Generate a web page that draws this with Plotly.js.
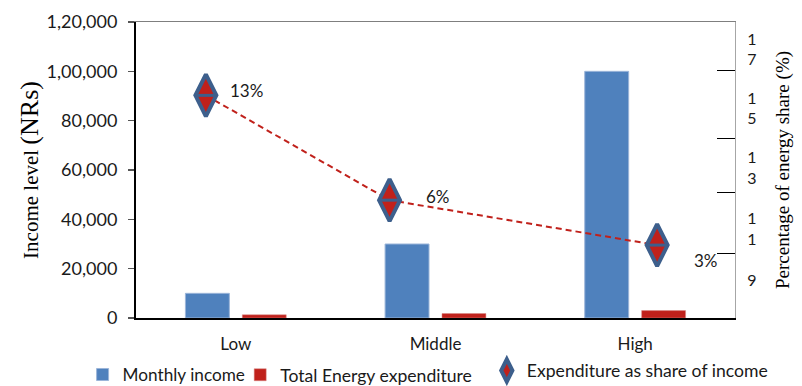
<!DOCTYPE html>
<html>
<head>
<meta charset="utf-8">
<script src="https://cdn.plot.ly/plotly-3.0.1.min.js"></script>
<style>
  html, body { margin: 0; padding: 0; background: #fff; }
  #chart { width: 802px; height: 386px; }
</style>
</head>
<body>
<div id="chart"></div>
<script>
// Income groups and their monthly figures (NRs)
const categories = ['Low', 'Middle', 'High'];
const monthlyIncome = [10000, 30000, 100000];
const energyExpenditure = [1300, 1800, 3000];

// Energy expenditure as a share of income (%), and where each point sits along the groups
const sharePercent = [13, 6, 3];
const sharePos = [-0.15, 0.77, 2.11];

// Left axis ticks (Indian digit grouping)
const incomeTicks = [0, 20000, 40000, 60000, 80000, 100000, 120000];
const incomeTickText = ['0', '20,000', '40,000', '60,000', '80,000', '1,00,000', '1,20,000'];

// Right axis: label text, where the labels sit and where the tick marks sit (in % units)
const shareAxisText = ['1<br>7', '1<br>5', '1<br>3', '1<br>1', '9'];
const shareLabelPos = [16.07, 12.13, 8.13, 4.07, 0.67];
const shareMarkPos = [14.67, 10.13, 6.53, 2.47];

const BLUE = '#4F81BD';
const RED = '#C0211B';
const DIAMOND = '#3D5F8C';
const sans = 'Lato, "Open Sans", sans-serif';
const serif = '"Liberation Serif", "DejaVu Serif", serif';

const traces = [
  {
    type: 'bar', name: 'Monthly income', x: categories, y: monthlyIncome,
    marker: { color: BLUE, line: { color: '#9BB5D9', width: 1 } },
    legend: 'legend', hoverinfo: 'x+y'
  },
  {
    type: 'bar', name: 'Total Energy expenditure', x: categories, y: energyExpenditure,
    marker: { color: RED, line: { color: '#D98A86', width: 0.5 } },
    legend: 'legend3', hoverinfo: 'x+y'
  },
  {
    type: 'scatter', mode: 'lines', x: sharePos, y: sharePercent,
    xaxis: 'x2', yaxis: 'y2', showlegend: false, hoverinfo: 'skip',
    line: { color: RED, width: 2, dash: '6px,4px' }
  },
  {
    type: 'scatter', mode: 'markers', name: 'Expenditure as share of income',
    x: sharePos, y: sharePercent, xaxis: 'x2', yaxis: 'y2', legend: 'legend2',
    marker: { symbol: 'diamond-tall', size: 30, color: RED, line: { color: DIAMOND, width: 4 } },
    text: sharePercent.map(v => v + '%'), hoverinfo: 'text'
  },
  {
    type: 'scatter', mode: 'markers', x: sharePos, y: sharePercent,
    xaxis: 'x2', yaxis: 'y2', showlegend: false, hoverinfo: 'skip',
    marker: { symbol: 'line-ew', size: 15, line: { color: DIAMOND, width: 3 } }
  }
];

// Value labels next to each share point
const labelShift = [[22, 5], [34, 4], [35, -15]];
const annotations = sharePercent.map((v, i) => ({
  x: sharePos[i], y: v, xref: 'x2', yref: 'y2',
  text: v + '%', showarrow: false, xanchor: 'left', yanchor: 'middle',
  xshift: labelShift[i][0], yshift: labelShift[i][1],
  font: { family: sans, size: 17, color: '#1a1a1a' }
}));

const legendFont = { family: sans, size: 17.6, color: '#1a1a1a' };

const layout = {
  width: 802, height: 386,
  margin: { l: 136, r: 67, t: 22, b: 68 },
  paper_bgcolor: '#fff', plot_bgcolor: '#fff',
  barmode: 'group', bargap: 0.43, bargroupgap: 0.228,
  font: { family: sans, size: 17, color: '#1a1a1a' },
  xaxis: {
    type: 'category', showline: true, linecolor: '#000', linewidth: 1.5,
    ticks: '', ticklabelstandoff: 10, showgrid: false, zeroline: false,
    tickfont: { family: sans, size: 17, color: '#1a1a1a' }
  },
  xaxis2: {
    overlaying: 'x', side: 'top', range: [-0.5, 2.5],
    showline: true, linecolor: '#7F7F7F', linewidth: 1,
    ticks: '', showticklabels: false, showgrid: false, zeroline: false
  },
  yaxis: {
    range: [0, 120000], tickmode: 'array', tickvals: incomeTicks, ticktext: incomeTickText,
    showline: true, linecolor: '#000', linewidth: 2,
    ticks: 'outside', ticklen: 6, tickcolor: '#555', tickwidth: 1.5,
    ticklabelstandoff: 7, showgrid: false, zeroline: false,
    tickfont: { family: sans, size: 18, color: '#1a1a1a' },
    title: {
      text: 'Income level <span style="font-size:26px">(NRs)</span>',
      font: { family: serif, size: 21, color: '#000' }, standoff: 2
    }
  },
  yaxis2: {
    overlaying: 'y', side: 'right', range: [-1.87, 17.9],
    showline: true, linecolor: '#A6A6A6', linewidth: 1,
    tickmode: 'array', tickvals: shareLabelPos, ticktext: shareAxisText,
    ticks: '', ticklabelstandoff: 8, showgrid: false, zeroline: false,
    tickfont: { family: sans, size: 16, color: '#1a1a1a' },
    minor: { tickmode: 'array', tickvals: shareMarkPos, ticks: 'inside', ticklen: 18, tickcolor: '#000', tickwidth: 1 },
    title: {
      text: 'Percentage of energy share (%)',
      font: { family: serif, size: 19, color: '#000' }, standoff: 20
    }
  },
  legend: {
    orientation: 'h', xref: 'container', yref: 'container',
    x: 0.103, xanchor: 'left', y: 0.029, yanchor: 'middle',
    font: { family: sans, size: 17.2, color: '#1a1a1a' }, bgcolor: 'rgba(0,0,0,0)'
  },
  legend3: {
    orientation: 'h', xref: 'container', yref: 'container',
    x: 0.2995, xanchor: 'left', y: 0.029, yanchor: 'middle',
    font: legendFont, bgcolor: 'rgba(0,0,0,0)'
  },
  legend2: {
    orientation: 'h', xref: 'container', yref: 'container',
    x: 0.607, xanchor: 'left', y: 0.04, yanchor: 'middle',
    font: legendFont, bgcolor: 'rgba(0,0,0,0)'
  },
  annotations: annotations,
  showlegend: true
};

Plotly.newPlot('chart', traces, layout, { displayModeBar: false, staticPlot: true });
</script>
</body>
</html>
